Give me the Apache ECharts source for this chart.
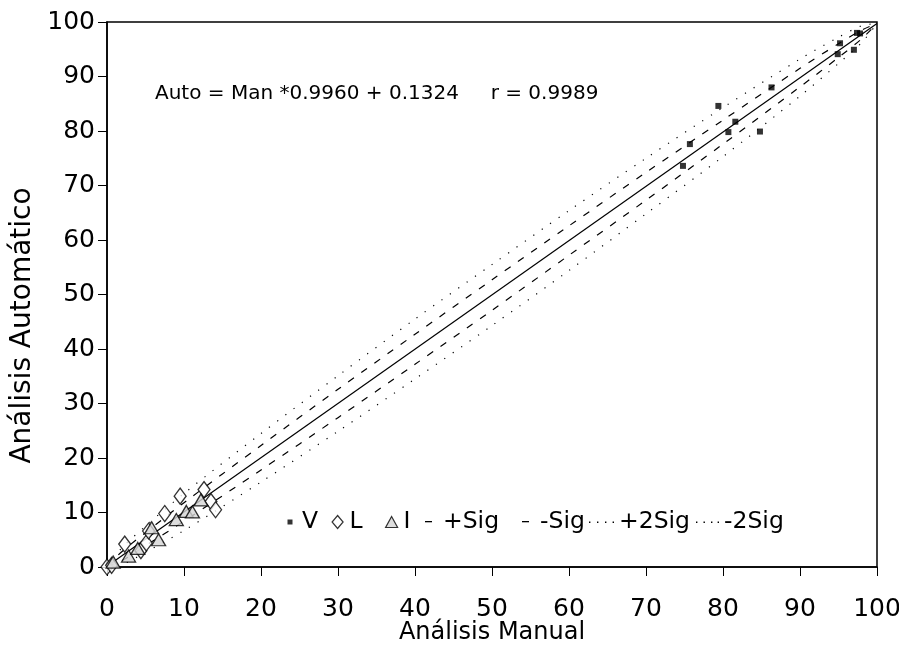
<!DOCTYPE html>
<html>
<head>
<meta charset="utf-8">
<script src="https://cdn.jsdelivr.net/npm/echarts@6/dist/echarts.min.js"></script>
<style>html,body{margin:0;padding:0;background:#fff}#c{width:899px;height:661px}</style>
</head>
<body>
<div id="c"></div>
<script>
// ---- data ----
var xTicks = [0, 10, 20, 30, 40, 50, 60, 70, 80, 90, 100];
var yTicks = [0, 10, 20, 30, 40, 50, 60, 70, 80, 90, 100];
var seriesNames = ['V', 'L', 'I', '+Sig', '-Sig', '+2Sig', '-2Sig'];

var dataV = [[74.8,73.6],[75.7,77.6],[79.4,84.6],[80.7,79.8],[81.6,81.7],[84.8,79.9],
             [86.3,88.0],[94.9,94.1],[95.2,96.1],[97.0,94.9],[97.4,98.0],[97.8,97.9]];
var dataL = [[0.0,0.0],[0.6,0.3],[2.3,4.2],[4.4,3.0],[5.1,4.4],[5.4,6.6],[7.5,9.8],
             [9.5,13.0],[12.6,14.2],[13.5,12.0],[14.1,10.5]];
var dataI = [[0.8,0.9],[2.8,2.0],[4.0,3.4],[5.8,7.2],[6.7,5.0],[9.0,8.7],
             [10.3,10.2],[11.1,10.1],[12.2,12.3]];

// regression line Auto = Man*0.9960 + 0.1324
var regX = [0, 100];
var regY = [0.13, 99.73];

// confidence band lines (read along x)
var bandX     = [0,   2,   5,   10,   20,   30,   40,   50,   60,   70,   80,   90,   95,   98,   100];
var plusSig   = [0.13,2.9, 6.3, 11.8, 22.3, 32.6, 42.7, 52.7, 62.6, 72.4, 82.0, 91.5, 96.0, 98.5, 99.73];
var minusSig  = [0.13,1.2, 3.9, 8.4,  17.8, 27.4, 37.2, 47.1, 57.2, 67.3, 77.6, 88.1, 93.5, 96.9, 99.73];
var plus2Sig  = [0.13,3.6, 7.5, 13.5, 24.5, 35.1, 45.5, 55.5, 65.4, 75.0, 84.3, 93.2, 97.2, 99.3, 99.73];
var minus2Sig = [0.13,0.5, 2.7, 6.7,  15.6, 24.9, 34.5, 44.3, 54.4, 64.8, 75.3, 86.4, 92.4, 96.2, 99.73];

function pairs(xs, ys) { return xs.map(function (x, i) { return [x, ys[i]]; }); }

var FONT = 'DejaVu Sans';
var chart = echarts.init(document.getElementById('c'), null, {renderer: 'canvas'});

// legend icons (box corners fixed by the zero-length moves)
var BOX14 = 'M0,0L0,0M14,16L14,16';
var icons = {
  'V': 'path://' + BOX14 + 'M4.5,5.5h5v5h-5Z',
  'L': 'path://' + BOX14 + 'M7,1.5L12.5,8L7,14.5L1.5,8Z',
  'I': 'path://' + BOX14 + 'M7,2.5L13,13.5L1,13.5Z',
  '+Sig': 'path://' + BOX14 + 'M1,7h7v1.3h-7Z',
  '-Sig': 'path://' + BOX14 + 'M1,7h7v1.3h-7Z',
  '+2Sig': 'path://M0,0L0,0M26,16L26,16M1,7.6h1.4v1.4h-1.4ZM9,7.6h1.4v1.4h-1.4ZM17,7.6h1.4v1.4h-1.4ZM24.6,7.6h1.4v1.4h-1.4Z',
  '-2Sig': 'path://M0,0L0,0M24,16L24,16M1,7.6h1.4v1.4h-1.4ZM8.5,7.6h1.4v1.4h-1.4ZM16,7.6h1.4v1.4h-1.4ZM22.6,7.6h1.4v1.4h-1.4Z'
};
var legendLeft = {'V': 283, 'L': 330, 'I': 384, '+Sig': 424, '-Sig': 521, '+2Sig': 588, '-2Sig': 695};
var legendW = {'V': 14, 'L': 14, 'I': 14, '+Sig': 14, '-Sig': 14, '+2Sig': 26, '-2Sig': 24};

var legends = seriesNames.map(function (n) {
  var outline = (n === 'L' || n === 'I');
  return {
    data: [{name: n, icon: icons[n]}],
    left: legendLeft[n], top: 510, padding: 0,
    itemWidth: legendW[n], itemHeight: 16, selectedMode: false,
    itemStyle: {borderWidth: outline ? 1.2 : 0},
    textStyle: {fontSize: 23.5, fontFamily: FONT, color: '#000'}
  };
});

chart.setOption({
  backgroundColor: '#fff',
  animation: false,
  grid: {left: 107, right: 22, top: 22, bottom: 94, show: true, outerBoundsMode: 'none',
         borderColor: '#000', borderWidth: 1.5, backgroundColor: 'transparent'},
  graphic: [{
    type: 'text', left: 155, top: 84,
    style: {text: 'Auto = Man *0.9960 + 0.1324     r = 0.9989',
            font: '20px ' + FONT, fill: '#000'}
  }],
  legend: legends,
  xAxis: {
    type: 'value', min: 0, max: 100, interval: 10,
    name: 'Análisis Manual', nameLocation: 'middle', nameGap: 54, nameMoveOverlap: false,
    nameTextStyle: {fontSize: 24, fontFamily: FONT, color: '#000'},
    axisLine: {lineStyle: {color: '#000', width: 1.5}},
    axisTick: {length: 9, lineStyle: {color: '#000'}},
    axisLabel: {fontSize: 25, fontFamily: FONT, color: '#000', margin: 30,
                formatter: function (v) { return xTicks.indexOf(v) >= 0 ? String(v) : ''; }},
    splitLine: {show: false}
  },
  yAxis: {
    type: 'value', min: 0, max: 100, interval: 10,
    name: 'Análisis Automático', nameLocation: 'middle', nameGap: 70, nameMoveOverlap: false,
    nameTextStyle: {fontSize: 28, fontFamily: FONT, color: '#000', padding: [0, 62, 0, 0]},
    axisLine: {show: true, lineStyle: {color: '#000', width: 1.5}},
    axisTick: {show: true, length: 9, lineStyle: {color: '#000'}},
    axisLabel: {fontSize: 25, fontFamily: FONT, color: '#000', margin: 12,
                formatter: function (v) { return yTicks.indexOf(v) >= 0 ? String(v) : ''; }},
    splitLine: {show: false}
  },
  series: [
    {name: 'V', type: 'scatter', data: dataV, symbol: 'rect', symbolSize: 6, z: 5,
     itemStyle: {color: '#000'}},
    {name: 'L', type: 'scatter', data: dataL, symbol: 'diamond', symbolSize: [12, 16], z: 4,
     itemStyle: {color: '#fff', borderColor: '#000', borderWidth: 1.3}},
    {name: 'I', type: 'scatter', data: dataI, symbol: 'triangle', symbolSize: [14, 12], z: 4,
     itemStyle: {color: '#d4d4d4', borderColor: '#000', borderWidth: 1.3}},
    {name: 'reg', type: 'line', data: pairs(regX, regY), symbol: 'none', z: 3,
     lineStyle: {color: '#000', width: 1.2}},
    {name: '+Sig', type: 'line', data: pairs(bandX, plusSig), symbol: 'none', smooth: 0.3, z: 2,
     itemStyle: {color: '#000'}, lineStyle: {color: '#000', width: 1.2, type: [7, 9]}},
    {name: '-Sig', type: 'line', data: pairs(bandX, minusSig), symbol: 'none', smooth: 0.3, z: 2,
     itemStyle: {color: '#000'}, lineStyle: {color: '#000', width: 1.2, type: [7, 9]}},
    {name: '+2Sig', type: 'line', data: pairs(bandX, plus2Sig), symbol: 'none', smooth: 0.3, z: 2,
     itemStyle: {color: '#000'}, lineStyle: {color: '#000', width: 1.2, type: [1.2, 9]}},
    {name: '-2Sig', type: 'line', data: pairs(bandX, minus2Sig), symbol: 'none', smooth: 0.3, z: 2,
     itemStyle: {color: '#000'}, lineStyle: {color: '#000', width: 1.2, type: [1.2, 9]}}
  ]
});
</script>
</body>
</html>
